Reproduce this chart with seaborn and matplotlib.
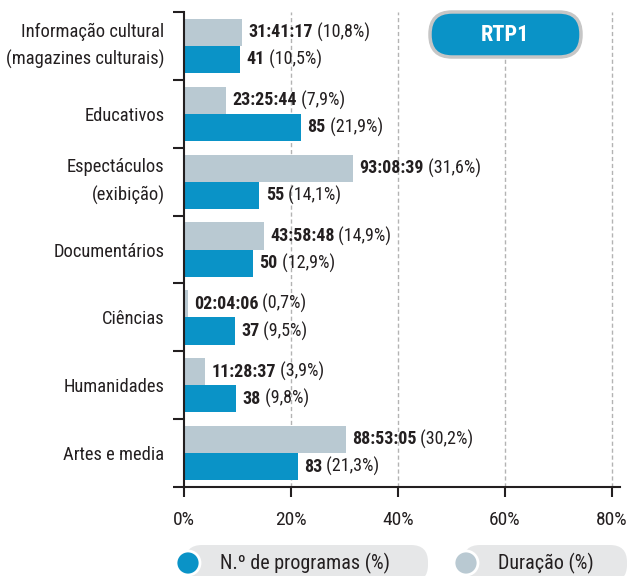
import pandas as pd
import seaborn as sns
import matplotlib.pyplot as plt
from matplotlib.patches import FancyBboxPatch, Circle
from matplotlib.transforms import IdentityTransform
from matplotlib import font_manager

# data
categories = ['Informação cultural\n(magazines culturais)', 'Educativos', 'Espectáculos\n(exibição)',
              'Documentários', 'Ciências', 'Humanidades', 'Artes e media']
dur_pct = [10.8, 7.9, 31.6, 14.9, 0.7, 3.9, 30.2]
dur_time = ['31:41:17', '23:25:44', '93:08:39', '43:58:48', '02:04:06', '11:28:37', '88:53:05']
prog_pct = [10.5, 21.9, 14.1, 12.9, 9.5, 9.8, 21.3]
prog_n = [41, 85, 55, 50, 37, 38, 83]
xticks = [0, 20, 40, 60, 80]
series = ['Duração (%)', 'N.º de programas (%)']

blue = '#0a93c7'
grey = '#b9c9d2'
dark = '#231f20'

sns.set_style('white')

# pick a condensed font if one is installed
fonts = font_manager.fontManager.ttflist
family, stretch, scale = 'DejaVu Sans', 'normal', 0.8
for want in ['Roboto Condensed', 'Liberation Sans Narrow', 'Open Sans Condensed', 'Noto Sans Condensed']:
    if any(f.name == want for f in fonts):
        family, stretch, scale = want, 'normal', 1.0
        break
else:
    for want in ['Roboto', 'Noto Sans', 'Open Sans', 'DejaVu Sans']:
        cand = [f for f in fonts if f.name == want and f.stretch in ('condensed', 'semi-condensed', 'extra-condensed')]
        if cand:
            family, stretch, scale = want, cand[0].stretch, 1.0
            break
plt.rcParams['font.family'] = [family, 'DejaVu Sans']
plt.rcParams['font.stretch'] = stretch

df = pd.DataFrame({
    'cat': categories * 2,
    'pct': dur_pct + prog_pct,
    'serie': [series[0]] * 7 + [series[1]] * 7,
})

fig = plt.figure(figsize=(6.33, 5.76), dpi=100)
ax = fig.add_axes([184 / 633, 1 - 487 / 576, 436 / 633, 475 / 576])
sns.barplot(data=df, y='cat', x='pct', hue='serie', order=categories, hue_order=series,
            palette=[grey, blue], width=0.8, saturation=1, legend=False, linewidth=0, ax=ax)

ax.set_xlim(0, 81.5)
ax.set_ylim(6.5, -0.5)
ax.set_xlabel('')
ax.set_ylabel('')
ax.set_xticks(xticks)
ax.set_xticklabels([f'{t}%' for t in xticks], fontsize=14 * scale, color=dark)
ax.tick_params(axis='x', direction='out', length=7, width=1.5, color=dark, pad=10, bottom=True)
ax.tick_params(axis='y', length=0, labelleft=False)
ax.set_yticks([i - 0.5 for i in range(8)], minor=True)
ax.tick_params(axis='y', which='minor', direction='out', length=8, width=1.5, color=dark, left=True)
for t in xticks[1:]:
    ax.axvline(t, color='#b3b3b3', lw=1, ls=(0, (3, 2)), zorder=0)
for s in ['top', 'right']:
    ax.spines[s].set_visible(False)
for s in ['left', 'bottom']:
    ax.spines[s].set_color(dark)
    ax.spines[s].set_linewidth(1.5)

# category labels
for i, cat in enumerate(categories):
    dy = 0 if '\n' in cat else -1.5
    ax.annotate(cat, (0, i), xycoords=('axes fraction', 'data'), xytext=(-14, dy),
                textcoords='offset points', ha='right', va='center', linespacing=1.62,
                fontsize=13.3 * scale, color=dark, annotation_clip=False)

# value labels: bold part + regular part
fig.canvas.draw()
r = fig.canvas.get_renderer()
for i in range(7):
    rows = [(i - 0.2, dur_pct[i], dur_time[i], f' ({dur_pct[i]:.1f}%)'.replace('.', ',')),
            (i + 0.2, prog_pct[i], str(prog_n[i]), f' ({prog_pct[i]:.1f}%)'.replace('.', ','))]
    for y, x, b, rest in rows:
        t1 = ax.annotate(b, (x, y), xytext=(4.5, 0), textcoords='offset points', va='center',
                         fontsize=13 * scale, fontweight='bold', color=dark)
        w = t1.get_window_extent(r).width
        ax.annotate(rest, (x, y), xytext=(4.5 + w * 72 / fig.dpi, 0), textcoords='offset points',
                    va='center', fontsize=13 * scale, color=dark)

# RTP1 badge
H = 576
badge = FancyBboxPatch((430, H - 57), 151, 45, boxstyle='round,pad=0,rounding_size=22',
                       transform=IdentityTransform(), fc=blue, ec='#c6c6c6', lw=2.5)
fig.patches.append(badge)
fig.text(505 / 633, 1 - 35 / 576, 'RTP1', color='white', fontsize=16 * scale, fontweight='bold',
         ha='center', va='center')

# legend pills
for x0, x1, col, txt in [(185, 428, blue, series[1]), (463, 627, grey, series[0])]:
    pill = FancyBboxPatch((x0, H - 582), x1 - x0, 37, boxstyle='round,pad=0,rounding_size=17',
                          transform=IdentityTransform(), fc='#e6e7e8', ec='none')
    fig.patches.append(pill)
    circ = Circle((x0 + 3, H - 563), 12, transform=IdentityTransform(), fc=col, ec='white', lw=2)
    fig.patches.append(circ)
    fig.text((x0 + 35) / 633, 1 - 563 / 576, txt, fontsize=14.5 * scale, color=dark, va='center')

fig.savefig('out.png', dpi=100)
